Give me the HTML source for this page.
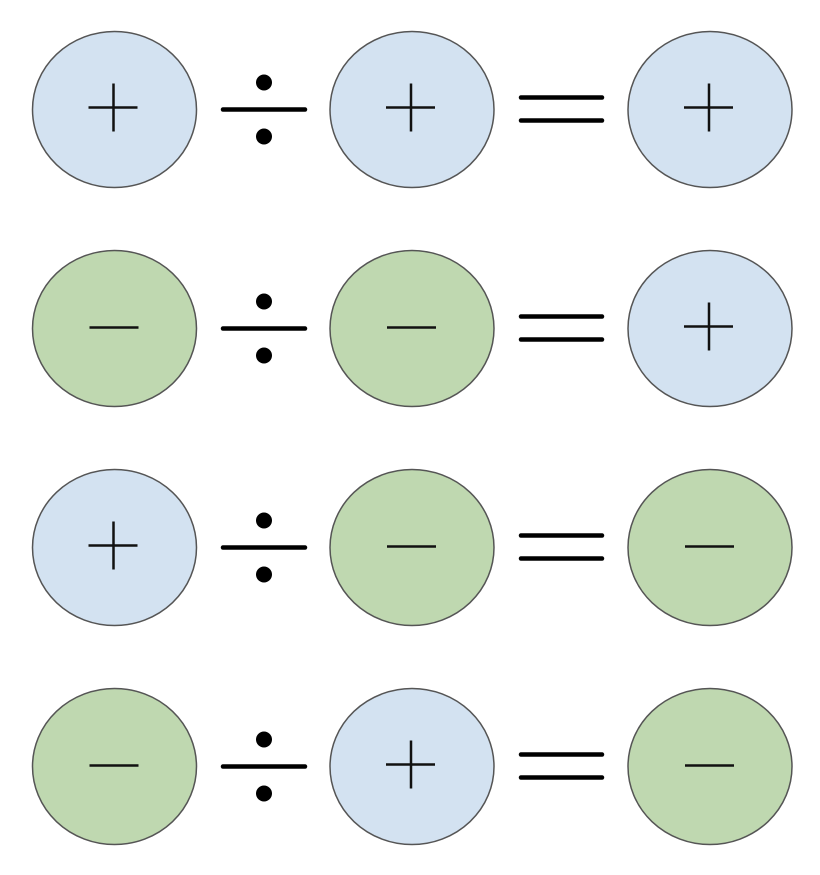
<!DOCTYPE html>
<html><head><style>body{margin:0;background:#fff}</style></head><body>
<svg width="820" height="870" viewBox="0 0 820 870" xmlns="http://www.w3.org/2000/svg">
<defs>
<g id="div"><line x1="223" y1="0" x2="305" y2="0" stroke="#000" stroke-width="4.5" stroke-linecap="round"/><circle cx="264" cy="-27" r="8"/><circle cx="264" cy="27" r="8"/></g>
<g id="eq"><line x1="521" y1="-12" x2="602" y2="-12" stroke="#000" stroke-width="4.5" stroke-linecap="round"/><line x1="521" y1="11" x2="602" y2="11" stroke="#000" stroke-width="4.5" stroke-linecap="round"/></g>
<g id="P"><ellipse cx="0" cy="0" rx="82" ry="78" fill="#d3e2f1" stroke="#555" stroke-width="1.5"/><path d="M-26 -2H23M-1 -26V22" stroke="#111" stroke-width="2.5"/></g>
<g id="M"><ellipse cx="0" cy="0" rx="82" ry="78" fill="#bfd8b0" stroke="#555" stroke-width="1.5"/><path d="M-25 -1H24" stroke="#111" stroke-width="2.5"/></g>
</defs>
<g transform="translate(0,109.5)"><use href="#P" x="114.5"/><use href="#div"/><use href="#P" x="412"/><use href="#eq"/><use href="#P" x="710"/></g>
<g transform="translate(0,328.5)"><use href="#M" x="114.5"/><use href="#div"/><use href="#M" x="412"/><use href="#eq"/><use href="#P" x="710"/></g>
<g transform="translate(0,547.5)"><use href="#P" x="114.5"/><use href="#div"/><use href="#M" x="412"/><use href="#eq"/><use href="#M" x="710"/></g>
<g transform="translate(0,766.5)"><use href="#M" x="114.5"/><use href="#div"/><use href="#P" x="412"/><use href="#eq"/><use href="#M" x="710"/></g>
</svg>
</body></html>
